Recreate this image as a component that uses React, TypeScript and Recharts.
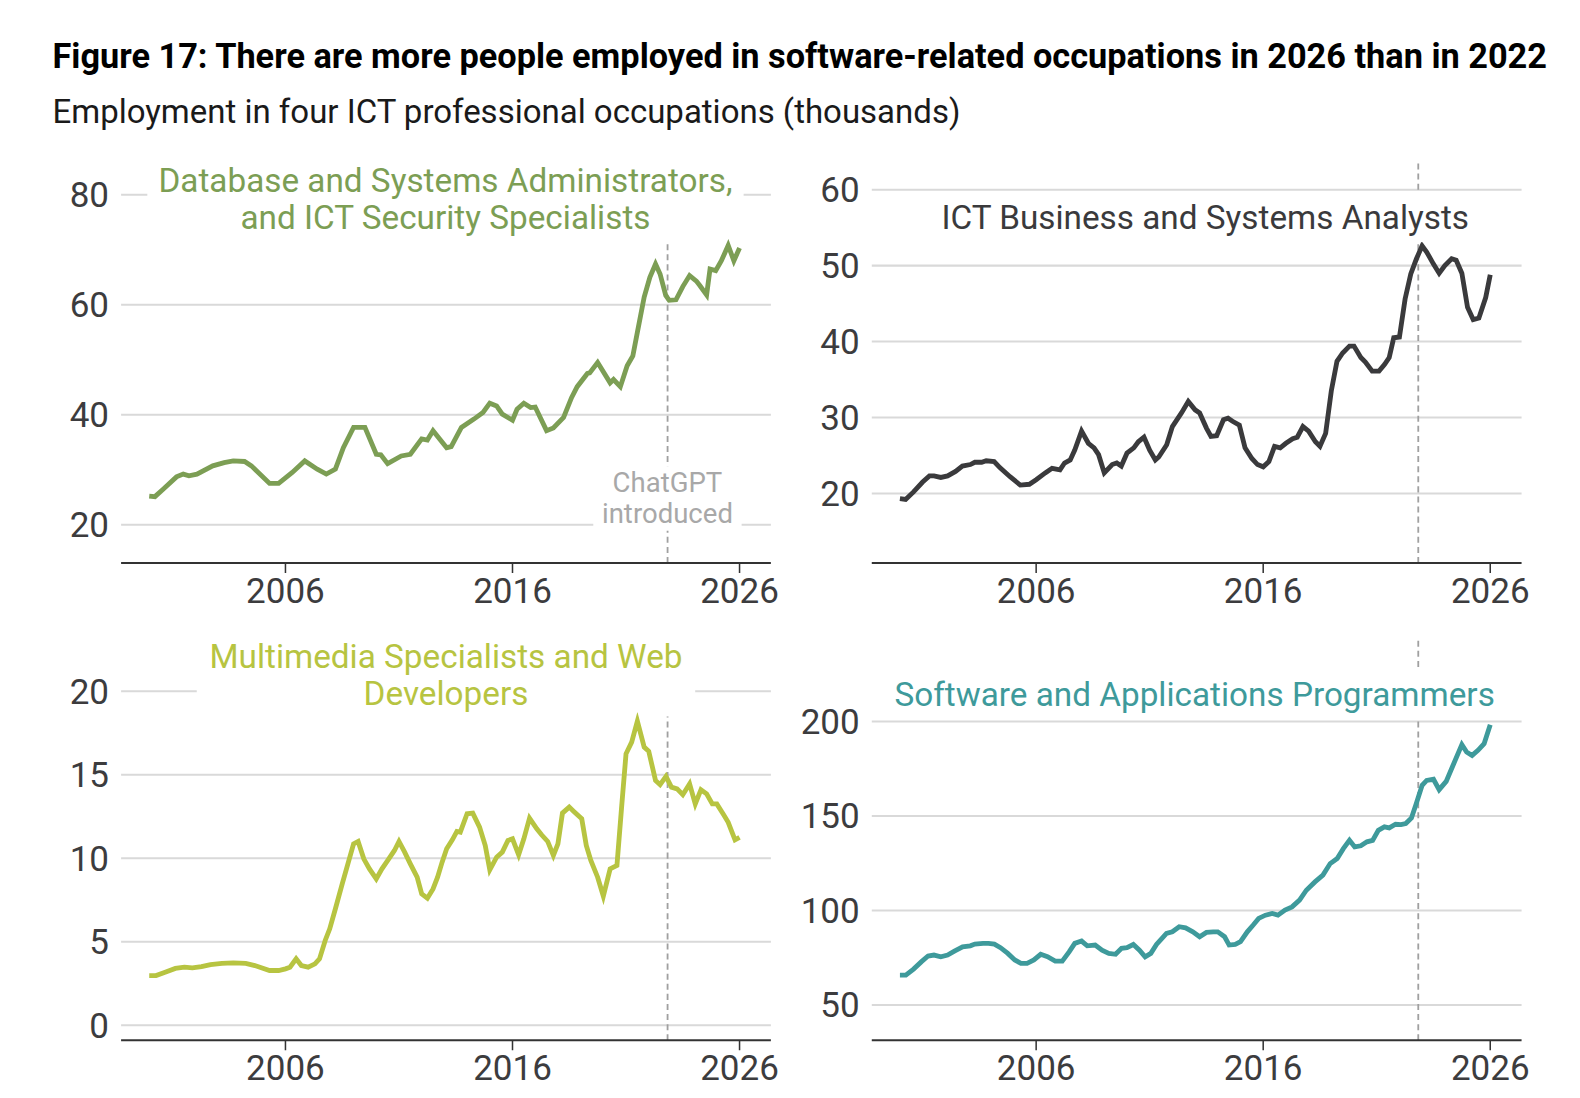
import React from 'react';
import { LineChart, Line, XAxis, YAxis, ReferenceLine } from 'recharts';

// Database and Systems Administrators, and ICT Security Specialists
const dbYears = [
  2000.0, 2000.25, 2000.6, 2001.2, 2001.5, 2001.75, 2002.1, 2002.8, 2003.3, 2003.7,
  2004.2, 2004.5, 2005.3, 2005.7, 2006.3, 2006.85, 2007.4, 2007.8, 2008.2, 2008.55,
  2009.0, 2009.5, 2010.0, 2010.2, 2010.5, 2011.1, 2011.5, 2012.0, 2012.25, 2012.5,
  2013.1, 2013.3, 2013.75, 2014.3, 2014.7, 2015.0, 2015.3, 2015.55, 2016.0, 2016.2,
  2016.5, 2016.8, 2017.0, 2017.5, 2017.8, 2018.25, 2018.6, 2018.85, 2019.3, 2019.4,
  2019.75, 2020.3, 2020.45, 2020.75, 2021.05, 2021.3, 2021.5, 2021.8, 2022.05, 2022.3,
  2022.5, 2022.75, 2022.9, 2023.2, 2023.5, 2023.8, 2024.1, 2024.25, 2024.55, 2024.7,
  2024.95, 2025.2, 2025.5, 2025.75, 2026.0,
];
const dbValues = [
  25.2, 25.1, 26.4, 28.7, 29.2, 28.9, 29.2, 30.7, 31.3, 31.6,
  31.5, 30.7, 27.5, 27.5, 29.5, 31.6, 30.1, 29.2, 30.1, 34.0,
  37.7, 37.7, 32.8, 32.7, 31.1, 32.5, 32.8, 35.6, 35.4, 37.1,
  34.0, 34.2, 37.7, 39.2, 40.4, 42.1, 41.6, 40.1, 39.0, 41.0,
  42.1, 41.3, 41.4, 37.1, 37.6, 39.5, 43.1, 45.1, 47.5, 47.6,
  49.5, 45.8, 46.4, 45.1, 48.9, 50.7, 55.0, 61.4, 65.0, 67.4,
  65.6, 61.7, 60.8, 60.9, 63.3, 65.3, 64.3, 63.5, 61.8, 66.5,
  66.2, 68.0, 70.8, 68.0, 70.3,
];

// ICT Business and Systems Analysts
const baYears = [
  2000.0, 2000.25, 2000.6, 2001.0, 2001.3, 2001.5, 2001.8, 2002.1, 2002.45, 2002.75,
  2003.1, 2003.3, 2003.6, 2003.8, 2004.15, 2004.4, 2004.85, 2005.3, 2005.7, 2006.0,
  2006.4, 2006.7, 2007.05, 2007.25, 2007.5, 2007.7, 2008.0, 2008.3, 2008.55, 2008.75,
  2009.0, 2009.35, 2009.55, 2009.75, 2010.0, 2010.3, 2010.5, 2010.75, 2011.0, 2011.25,
  2011.4, 2011.75, 2012.0, 2012.4, 2012.7, 2013.0, 2013.2, 2013.5, 2013.7, 2013.95,
  2014.25, 2014.45, 2014.65, 2014.95, 2015.2, 2015.5, 2015.75, 2016.0, 2016.25, 2016.5,
  2016.75, 2017.0, 2017.3, 2017.5, 2017.75, 2018.0, 2018.3, 2018.5, 2018.75, 2019.0,
  2019.25, 2019.5, 2019.8, 2020.0, 2020.3, 2020.5, 2020.8, 2021.1, 2021.35, 2021.55,
  2021.75, 2022.0, 2022.25, 2022.5, 2022.75, 2023.0, 2023.2, 2023.5, 2023.75, 2024.0,
  2024.3, 2024.5, 2024.75, 2025.0, 2025.25, 2025.5, 2025.8, 2026.0,
];
const baValues = [
  19.3, 19.2, 20.2, 21.5, 22.3, 22.3, 22.1, 22.3, 22.9, 23.6,
  23.8, 24.1, 24.1, 24.3, 24.2, 23.4, 22.2, 21.1, 21.2, 21.8,
  22.7, 23.3, 23.1, 24.0, 24.4, 25.7, 28.2, 26.6, 26.0, 25.1,
  22.7, 23.8, 24.0, 23.6, 25.3, 26.0, 26.8, 27.4, 25.7, 24.4,
  24.8, 26.4, 28.8, 30.6, 32.1, 31.0, 30.6, 28.6, 27.5, 27.6,
  29.7, 29.9, 29.5, 29.0, 26.0, 24.6, 23.8, 23.5, 24.2, 26.2,
  26.0, 26.6, 27.2, 27.4, 28.8, 28.2, 26.8, 26.2, 27.9, 33.5,
  37.4, 38.5, 39.4, 39.4, 37.9, 37.3, 36.1, 36.1, 37.0, 37.9,
  40.5, 40.6, 45.6, 48.9, 50.9, 52.6, 51.8, 50.2, 49.0, 50.0,
  50.9, 50.7, 49.0, 44.5, 42.9, 43.1, 45.8, 48.8,
];

// Multimedia Specialists and Web Developers
const mmYears = [
  2000.0, 2000.3, 2000.7, 2001.15, 2001.55, 2001.9, 2002.3, 2002.7, 2003.2, 2003.7,
  2004.25, 2004.65, 2005.3, 2005.7, 2006.0, 2006.2, 2006.47, 2006.7, 2007.0, 2007.3,
  2007.5, 2007.75, 2007.95, 2008.2, 2008.5, 2008.75, 2009.0, 2009.2, 2009.45, 2009.7,
  2010.0, 2010.25, 2010.55, 2010.8, 2011.0, 2011.25, 2011.5, 2011.8, 2012.0, 2012.25,
  2012.5, 2012.7, 2012.9, 2013.1, 2013.35, 2013.55, 2013.7, 2014.0, 2014.25, 2014.55,
  2014.8, 2015.0, 2015.3, 2015.55, 2015.8, 2016.0, 2016.27, 2016.5, 2016.75, 2017.07,
  2017.28, 2017.55, 2017.8, 2018.0, 2018.2, 2018.5, 2018.7, 2019.05, 2019.25, 2019.45,
  2019.75, 2020.0, 2020.3, 2020.6, 2020.8, 2021.0, 2021.25, 2021.5, 2021.8, 2022.0,
  2022.3, 2022.5, 2022.76, 2023.0, 2023.25, 2023.5, 2023.8, 2024.05, 2024.3, 2024.55,
  2024.8, 2025.0, 2025.3, 2025.5, 2025.8, 2026.0,
];
const mmValues = [
  2.97, 2.97, 3.17, 3.4, 3.47, 3.43, 3.5, 3.63, 3.7, 3.73,
  3.7, 3.57, 3.27, 3.27, 3.37, 3.47, 3.97, 3.57, 3.47, 3.67,
  3.97, 5.07, 5.77, 6.97, 8.46, 9.66, 10.86, 11.0, 9.96, 9.36,
  8.76, 9.36, 9.96, 10.46, 11.0, 10.36, 9.66, 8.86, 7.86, 7.6,
  8.16, 8.86, 9.76, 10.56, 11.1, 11.6, 11.56, 12.66, 12.7, 11.86,
  10.76, 9.3, 10.06, 10.36, 11.06, 11.16, 10.2, 11.16, 12.4, 11.76,
  11.4, 11.0, 10.16, 10.86, 12.7, 13.06, 12.8, 12.36, 10.76, 9.86,
  8.86, 7.73, 9.36, 9.56, 12.96, 16.25, 16.95, 18.2, 16.65, 16.4,
  14.65, 14.4, 14.9, 14.25, 14.15, 13.8, 14.45, 13.25, 14.1, 13.85,
  13.25, 13.25, 12.6, 12.15, 11.1, 11.25,
];

// Software and Applications Programmers
const spYears = [
  2000.0, 2000.26, 2000.6, 2000.95, 2001.24, 2001.5, 2001.8, 2002.1, 2002.4, 2002.76,
  2003.1, 2003.3, 2003.66, 2003.9, 2004.16, 2004.43, 2004.75, 2005.06, 2005.33, 2005.6,
  2005.9, 2006.2, 2006.5, 2006.84, 2007.15, 2007.46, 2007.7, 2008.0, 2008.25, 2008.6,
  2008.9, 2009.2, 2009.5, 2009.76, 2010.0, 2010.28, 2010.55, 2010.8, 2011.05, 2011.3,
  2011.74, 2012.0, 2012.3, 2012.58, 2012.9, 2013.2, 2013.5, 2013.8, 2014.0, 2014.3,
  2014.5, 2014.77, 2015.0, 2015.3, 2015.56, 2015.8, 2016.1, 2016.4, 2016.65, 2016.96,
  2017.27, 2017.6, 2017.9, 2018.28, 2018.63, 2018.95, 2019.26, 2019.53, 2019.8, 2020.03,
  2020.3, 2020.57, 2020.82, 2021.07, 2021.34, 2021.55, 2021.83, 2022.07, 2022.28, 2022.53,
  2022.74, 2023.0, 2023.2, 2023.5, 2023.75, 2024.06, 2024.33, 2024.75, 2024.96, 2025.2,
  2025.46, 2025.73, 2026.0,
];
const spValues = [
  65.8, 65.8, 69.0, 72.9, 75.9, 76.4, 75.5, 76.4, 78.5, 80.8,
  81.3, 82.2, 82.6, 82.6, 82.2, 80.3, 77.3, 73.8, 72.0, 72.0,
  73.8, 76.8, 75.5, 73.2, 73.2, 78.2, 82.6, 83.8, 81.3, 81.7,
  79.0, 77.3, 76.8, 80.0, 80.3, 82.0, 79.0, 75.5, 77.3, 82.0,
  87.9, 88.7, 91.4, 90.8, 88.7, 86.1, 88.4, 88.7, 88.7, 86.1,
  81.7, 82.0, 83.5, 88.7, 92.3, 95.8, 97.5, 98.4, 97.5, 100.2,
  101.9, 105.5, 110.7, 115.1, 118.7, 124.8, 127.5, 132.7, 137.1, 133.6,
  134.2, 136.3, 137.1, 142.4, 144.2, 143.7, 145.6, 145.4, 146.0, 148.9,
  156.5, 166.2, 168.8, 169.4, 163.9, 168.3, 175.9, 187.7, 183.8, 182.0,
  184.7, 188.2, 198.2,
];

const yearTicks = [2006, 2016, 2026];
const dbTicks = [20, 40, 60, 80];
const baTicks = [20, 30, 40, 50, 60];
const mmTicks = [0, 5, 10, 15, 20];
const spTicks = [50, 100, 150, 200];
const chatGptYear = 2022.83;

const FONT = 'Roboto, "Noto Sans", sans-serif';
const X_DOMAIN: [number, number] = [1998.76, 2027.38];
const TICK_STYLE = { fill: '#3c3c3e', fontSize: 34.7, fontFamily: FONT };

const toPoints = (years: number[], values: number[]) =>
  years.map((year, i) => ({ year, value: values[i] }));

type PanelProps = {
  left: number;
  top: number;
  width: number;
  height: number;
  axisWidth: number;
  marginTop: number;
  plotHeight: number;
  domain: [number, number];
  ticks: number[];
  dashTop: number;
  color: string;
  data: { year: number; value: number }[];
};

function Panel(p: PanelProps) {
  return (
    <div style={{ position: 'absolute', left: p.left, top: p.top }}>
      <LineChart
        width={p.width}
        height={p.height}
        data={p.data}
        margin={{ top: p.marginTop, right: 16, bottom: 0, left: 0 }}
      >
        <XAxis
          dataKey="year"
          type="number"
          domain={X_DOMAIN}
          ticks={yearTicks}
          allowDataOverflow
          height={p.height - p.marginTop - p.plotHeight}
          axisLine={{ stroke: '#333', strokeWidth: 2 }}
          tickLine={{ stroke: '#333', strokeWidth: 1.5 }}
          tickSize={10}
          tickMargin={5}
          tick={TICK_STYLE}
        />
        <YAxis
          type="number"
          domain={p.domain}
          ticks={p.ticks}
          allowDataOverflow
          width={p.axisWidth}
          axisLine={false}
          tickLine={false}
          tickSize={0}
          tickMargin={12}
          tick={TICK_STYLE}
        />
        {p.ticks.map((t) => (
          <ReferenceLine key={t} y={t} stroke="#d9d9d9" strokeWidth={2} />
        ))}
        <ReferenceLine
          segment={[
            { x: chatGptYear, y: p.domain[0] },
            { x: chatGptYear, y: p.dashTop },
          ]}
          stroke="#a0a0a0"
          strokeWidth={1.8}
          strokeDasharray="6 4"
        />
        <Line
          type="linear"
          dataKey="value"
          stroke={p.color}
          strokeWidth={4.8}
          dot={false}
          isAnimationActive={false}
        />
      </LineChart>
    </div>
  );
}

function Label(props: {
  left: number;
  top: number;
  width: number;
  height: number;
  color: string;
  lines: string[];
  size?: number;
  lineHeight?: number;
}) {
  return (
    <div
      style={{
        position: 'absolute',
        left: props.left,
        top: props.top,
        width: props.width,
        height: props.height,
        background: '#fff',
        color: props.color,
        fontFamily: FONT,
        fontSize: props.size ?? 33,
        lineHeight: `${props.lineHeight ?? 37}px`,
        textAlign: 'center',
        display: 'flex',
        flexDirection: 'column',
        justifyContent: 'center',
        whiteSpace: 'nowrap',
        zIndex: 2,
      }}
    >
      {props.lines.map((l) => (
        <div key={l}>{l}</div>
      ))}
    </div>
  );
}

export default function App() {
  return (
    <div
      style={{
        position: 'absolute',
        left: 0,
        top: 0,
        width: 1580,
        height: 1098,
        background: '#fff',
        fontFamily: FONT,
        transform: 'scale(1.009)',
        transformOrigin: '0 0',
      }}
    >
      <div
        style={{
          position: 'absolute',
          left: 52,
          top: 35,
          fontSize: 34,
          fontWeight: 700,
          color: '#000',
          whiteSpace: 'nowrap',
        }}
      >
        Figure 17: There are more people employed in software-related occupations in 2026 than in 2022
      </div>
      <div
        style={{
          position: 'absolute',
          left: 52,
          top: 92,
          fontSize: 32.7,
          color: '#1a1a1a',
          whiteSpace: 'nowrap',
        }}
      >
        Employment in four ICT professional occupations (thousands)
      </div>

      <Panel
        left={40}
        top={150}
        width={740}
        height={460}
        axisWidth={80}
        marginTop={30}
        plotHeight={378}
        domain={[13.03, 82.39]}
        ticks={dbTicks}
        dashTop={71.7}
        color="#7c9e54"
        data={toPoints(dbYears, dbValues)}
      />
      <Panel
        left={790}
        top={140}
        width={734}
        height={470}
        axisWidth={74}
        marginTop={10}
        plotHeight={408}
        domain={[10.83, 65.05]}
        ticks={baTicks}
        dashTop={63.7}
        color="#3a3a3c"
        data={toPoints(baYears, baValues)}
      />
      <Panel
        left={40}
        top={620}
        width={740}
        height={463}
        axisWidth={80}
        marginTop={20}
        plotHeight={391}
        domain={[-0.906, 22.72]}
        ticks={mmTicks}
        dashTop={18.49}
        color="#b7c441"
        data={toPoints(mmYears, mmValues)}
      />
      <Panel
        left={790}
        top={610}
        width={734}
        height={473}
        axisWidth={74}
        marginTop={10}
        plotHeight={411}
        domain={[31.32, 250.7]}
        ticks={spTicks}
        dashTop={242.7}
        color="#3e9a9b"
        data={toPoints(spYears, spValues)}
      />

      <Label
        left={146}
        top={160}
        width={591}
        height={74}
        color="#7c9e54"
        lines={['Database and Systems Administrators,', 'and ICT Security Specialists']}
      />
      <Label
        left={927}
        top={190}
        width={535}
        height={50}
        color="#3a3a3c"
        lines={['ICT Business and Systems Analysts']}
      />
      <Label
        left={195}
        top={632}
        width={494}
        height={74}
        color="#b7c441"
        lines={['Multimedia Specialists and Web', 'Developers']}
      />
      <Label
        left={876}
        top={664}
        width={616}
        height={48}
        color="#3e9a9b"
        lines={['Software and Applications Programmers']}
      />
      <Label
        left={588}
        top={462}
        width={147}
        height={64}
        color="#a8a8a8"
        size={27.3}
        lineHeight={30}
        lines={['ChatGPT', 'introduced']}
      />
    </div>
  );
}
